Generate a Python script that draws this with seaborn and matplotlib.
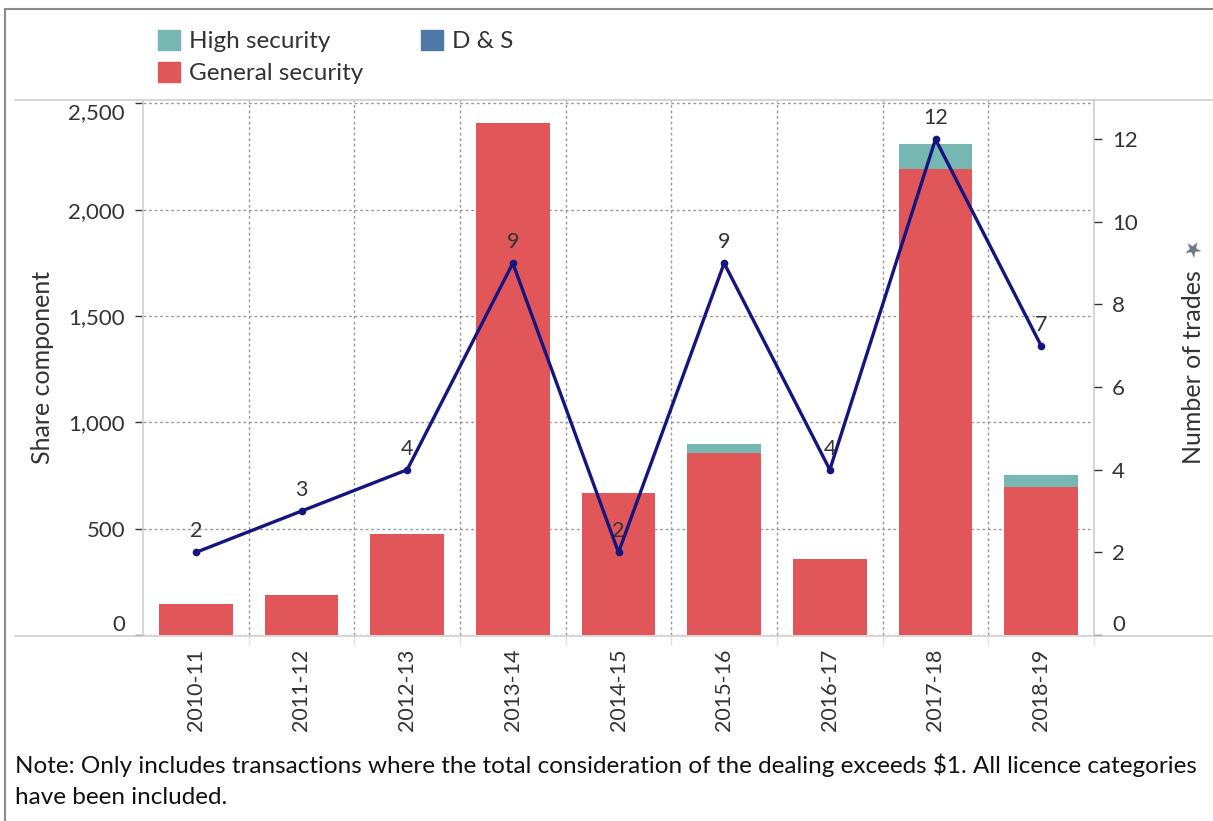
import numpy as np
import pandas as pd
import seaborn as sns
import matplotlib.pyplot as plt
from matplotlib.lines import Line2D
from matplotlib.patches import Patch

# data
years = ['2010-11', '2011-12', '2012-13', '2013-14', '2014-15',
         '2015-16', '2016-17', '2017-18', '2018-19']
general_security = [146, 188, 475, 2410, 669, 855, 356, 2192, 698]
high_security = [0, 0, 0, 0, 0, 45, 0, 116, 55]
d_and_s = [0, 0, 0, 0, 0, 0, 0, 0, 0]
num_trades = [2, 3, 4, 9, 2, 9, 4, 12, 7]

left_ticks = [0, 500, 1000, 1500, 2000, 2500]
right_ticks = [0, 2, 4, 6, 8, 10, 12]

c_general = '#E15759'
c_high = '#76B7B2'
c_ds = '#4E79A7'
c_line = '#15157f'
txt = '#333333'

df = pd.DataFrame({'Year': years, 'General': general_security,
                   'High': high_security, 'DS': d_and_s, 'Trades': num_trades})
df['GenHigh'] = df['General'] + df['High']
df['Total'] = df['GenHigh'] + df['DS']

sns.set_theme(style='white')
plt.rcParams['font.family'] = ['Lato', 'DejaVu Sans']

fig = plt.figure(figsize=(12.13, 8.21), dpi=100)
ax = fig.add_axes([143 / 1213, 1 - 635 / 821, (1094 - 143) / 1213, (635 - 100) / 821])

#stacked bars: draw cumulative totals from back to front
sns.barplot(data=df, x='Year', y='Total', color=c_ds, width=0.7, ax=ax,
            saturation=1, linewidth=0)
sns.barplot(data=df, x='Year', y='GenHigh', color=c_high, width=0.7, ax=ax,
            saturation=1, linewidth=0)
sns.barplot(data=df, x='Year', y='General', color=c_general, width=0.7, ax=ax,
            saturation=1, linewidth=0)

ax.set_xlim(-0.5, len(years) - 0.5)
ax.set_ylim(0, 2516)
ax.set_axisbelow(True)
ax.set_xlabel('')
ax.set_ylabel('Share component', fontsize=18, color=txt, labelpad=10)

ax.set_yticks(left_ticks)
ax.set_yticklabels([f'{v:,}' for v in left_ticks])
ylabs = ax.get_yticklabels()
ylabs[0].set_va('bottom')
ylabs[-1].set_va('top')
ax.tick_params(axis='y', labelsize=16, colors=txt, length=6, width=1, pad=7, left=True)
ax.tick_params(axis='x', labelsize=15.5, colors=txt, length=0, pad=10, labelrotation=90)
ax.set_xticks(np.arange(len(years)) + 0.5, minor=True)
ax.tick_params(axis='x', which='minor', bottom=True, length=7, color='#e0e0e0', width=1)

ax.grid(False)
ax.yaxis.grid(True, linestyle=(0, (2, 2)), color='#9a9a9a', linewidth=1)
ax.xaxis.grid(True, which='minor', linestyle=(0, (2, 2)), color='#9a9a9a', linewidth=1)

for s in ['top', 'bottom']:
    ax.spines[s].set_visible(False)
for s in ['left', 'right']:
    ax.spines[s].set_color('#cfcfcf')
    ax.spines[s].set_linewidth(1.2)

# line for number of trades on the right axis
ax2 = ax.twinx()
sns.lineplot(x=np.arange(len(years)), y=df['Trades'], ax=ax2, color=c_line,
             linewidth=2.4, marker='o', markersize=5.5, markeredgewidth=0)
ax2.set_ylim(0, 12.95)
ax2.set_yticks(right_ticks)
rlabs = ax2.get_yticklabels()
rlabs[0].set_va('bottom')
ax2.tick_params(axis='y', labelsize=16, colors=txt, length=6, width=1, pad=7, right=True)
ax2.set_ylabel('Number of trades', fontsize=18, color=txt, labelpad=32)
for s in ['top', 'bottom', 'left', 'right']:
    ax2.spines[s].set_visible(False)
ax2.grid(False)

for i, v in enumerate(num_trades):
    ax2.annotate(str(v), (i, v), xytext=(0, 8), textcoords='offset points',
                 ha='center', va='bottom', fontsize=15.5, color=txt)

# pin icon next to the right axis title
fig.text(1192 / 1213, 1 - 250 / 821, '\u2605', fontsize=15, color='#6b7785',
         ha='center', va='center', family=['DejaVu Sans'], rotation=-30)

# horizontal separators and outer frame
for yy in [100, 636]:
    fig.add_artist(Line2D([15 / 1213, 1], [1 - yy / 821] * 2, color='#cfcfcf', linewidth=1.2))
fig.add_artist(Line2D([5 / 1213, 5 / 1213], [0, 1 - 9 / 821], color='#8a8a8a', linewidth=1.5))
fig.add_artist(Line2D([5 / 1213, 1], [1 - 9 / 821] * 2, color='#8a8a8a', linewidth=1.5))

# legend
handles = [Patch(color=c_high, label='High security'),
           Patch(color=c_general, label='General security'),
           Patch(color=c_ds, label='D & S')]
fig.legend(handles=handles, loc='upper left', bbox_to_anchor=(158 / 1213, 1 - 30 / 821),
           ncol=2, frameon=False, fontsize=17.5, handlelength=0.9, handleheight=0.9,
           handletextpad=0.37, labelspacing=0.38, columnspacing=2.4, borderpad=0,
           borderaxespad=0, labelcolor=txt)

# note
fig.text(15 / 1213, 1 - 765 / 821,
         'Note: Only includes transactions where the total consideration of the dealing exceeds $1. All licence categories',
         fontsize=17.5, color='#111111', va='center', ha='left')
fig.text(15 / 1213, 1 - 797 / 821, 'have been included.',
         fontsize=17.5, color='#111111', va='center', ha='left')

fig.savefig('out.png', dpi=100)
